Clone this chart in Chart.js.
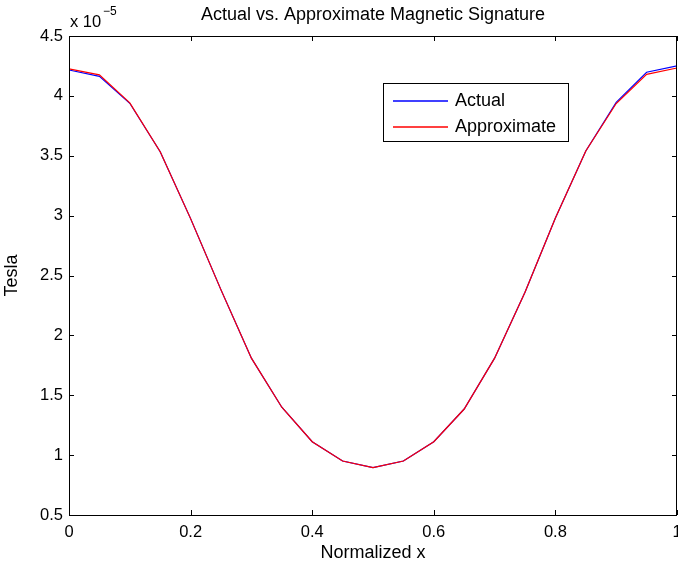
<!DOCTYPE html>
<html>
<head>
<meta charset="utf-8">
<script src="https://cdn.jsdelivr.net/npm/chart.js@4/dist/chart.umd.min.js"></script>
<style>
  html, body { margin: 0; padding: 0; background: #fff; }
  #wrap { width: 678px; height: 571px; }
</style>
</head>
<body>
<div id="wrap"><canvas id="sig"></canvas></div>
<script>
// normalized position along the path
const xs = [0, 0.05, 0.1, 0.15, 0.2, 0.25, 0.3, 0.35, 0.4, 0.45, 0.5,
            0.55, 0.6, 0.65, 0.7, 0.75, 0.8, 0.85, 0.9, 0.95, 1];
// field in units of 1e-5 tesla
const actual = [4.216, 4.163, 3.938, 3.534, 2.975, 2.38, 1.81, 1.40, 1.112, 0.951, 0.895,
                0.951, 1.112, 1.385, 1.81, 2.36, 2.98, 3.54, 3.946, 4.197, 4.25];
const approx = [4.226, 4.176, 3.942, 3.534, 2.975, 2.38, 1.81, 1.40, 1.112, 0.951, 0.895,
                0.951, 1.112, 1.385, 1.81, 2.36, 2.98, 3.54, 3.936, 4.18, 4.233];
const xTicks = [0, 0.2, 0.4, 0.6, 0.8, 1];
const yTicks = [0.5, 1, 1.5, 2, 2.5, 3, 3.5, 4, 4.5];

const FONT = 'Liberation Sans, Arial, Helvetica, sans-serif';
const BLUE = 'rgb(0,0,255)';
const RED = 'rgb(255,0,0)';

const pts = arr => xs.map((x, i) => ({ x: x, y: arr[i] }));

// matlab style box, inward ticks, title, exponent and legend
const matlabAxes = {
  id: 'matlabAxes',
  afterDatasetsDraw(chart) {
    const c = chart.ctx;
    const a = chart.chartArea;
    const sx = chart.scales.x, sy = chart.scales.y;
    c.save();
    c.strokeStyle = '#000';
    c.lineWidth = 1;
    c.beginPath();
    c.rect(Math.round(a.left) + 0.5, Math.round(a.top) + 0.5,
           Math.round(a.right - a.left) - 1, Math.round(a.bottom - a.top));
    c.stroke();
    c.beginPath();
    xTicks.forEach(v => {
      const px = Math.round(sx.getPixelForValue(v)) + 0.5;
      c.moveTo(px, a.bottom); c.lineTo(px, a.bottom - 5);
      c.moveTo(px, a.top); c.lineTo(px, a.top + 5);
    });
    yTicks.forEach(v => {
      const py = Math.round(sy.getPixelForValue(v)) + 0.5;
      c.moveTo(a.left, py); c.lineTo(a.left + 5, py);
      c.moveTo(a.right, py); c.lineTo(a.right - 5, py);
    });
    c.stroke();

    // title
    c.fillStyle = '#000';
    c.font = '18px ' + FONT;
    c.textAlign = 'center';
    c.textBaseline = 'middle';
    c.fillText('Actual vs. Approximate Magnetic Signature', (a.left + a.right) / 2, 15);

    // exponent
    c.textAlign = 'left';
    c.font = '16.5px ' + FONT;
    c.fillText('x 10', a.left + 1, 22);
    c.font = '12px ' + FONT;
    c.fillText('\u22125', a.left + 34, 12);

    // legend
    const lx = 383, ly = 83, lw = 185, lh = 58;
    c.fillStyle = '#fff';
    c.fillRect(lx, ly, lw, lh);
    c.strokeStyle = '#000';
    c.strokeRect(lx + 0.5, ly + 0.5, lw, lh);
    c.font = '18px ' + FONT;
    const metas = chart.getSortedVisibleDatasetMetas().slice().sort((m1, m2) => m1.index - m2.index);
    metas.forEach((meta, i) => {
      const ds = chart.data.datasets[meta.index];
      const y = ly + 18 + i * 26;
      c.save();
      c.strokeStyle = ds.borderColor;
      c.lineWidth = 1.3;
      c.beginPath();
      c.moveTo(lx + 10, y); c.lineTo(lx + 65, y);
      c.stroke();
      c.restore();
      c.fillStyle = '#000';
      c.textAlign = 'left';
      c.fillText(ds.label, lx + 72, y);
    });
    c.restore();
  }
};

new Chart(document.getElementById('sig'), {
  type: 'line',
  data: {
    datasets: [
      { label: 'Actual', data: pts(actual), borderColor: BLUE, borderWidth: 1.2,
        pointRadius: 0, fill: false, tension: 0, order: 1 },
      { label: 'Approximate', data: pts(approx), borderColor: RED, borderWidth: 1.2,
        pointRadius: 0, fill: false, tension: 0, order: 0 }
    ]
  },
  options: {
    responsive: true,
    maintainAspectRatio: false,
    animation: false,
    layout: { padding: { top: 36, right: 1, left: 0, bottom: 0 } },
    plugins: {
      legend: { display: false },
      tooltip: { enabled: false }
    },
    scales: {
      x: {
        type: 'linear',
        min: 0, max: 1,
        afterBuildTicks: s => { s.ticks = xTicks.map(v => ({ value: v })); },
        afterFit: s => { s.height = 56; s.paddingLeft = 0; s.paddingRight = 0; },
        grid: { display: false, drawTicks: false },
        border: { display: false },
        ticks: { color: '#000', font: { family: FONT, size: 16.5 }, padding: 8, maxRotation: 0,
                 callback: v => String(v) },
        title: { display: true, text: 'Normalized x', color: '#000',
                 font: { family: FONT, size: 18 }, padding: { top: 0, bottom: 7 } }
      },
      y: {
        type: 'linear',
        min: 0.5, max: 4.5,
        afterBuildTicks: s => { s.ticks = yTicks.map(v => ({ value: v })); },
        afterFit: s => { s.width = 69; s.paddingTop = 0; s.paddingBottom = 0; },
        grid: { display: false, drawTicks: false },
        border: { display: false },
        ticks: { color: '#000', font: { family: FONT, size: 16.5 }, padding: 6,
                 callback: v => String(v) },
        title: { display: true, text: 'Tesla', color: '#000',
                 font: { family: FONT, size: 18 }, padding: { top: 1, bottom: 0 } }
      }
    }
  },
  plugins: [matlabAxes]
});
</script>
</body>
</html>
